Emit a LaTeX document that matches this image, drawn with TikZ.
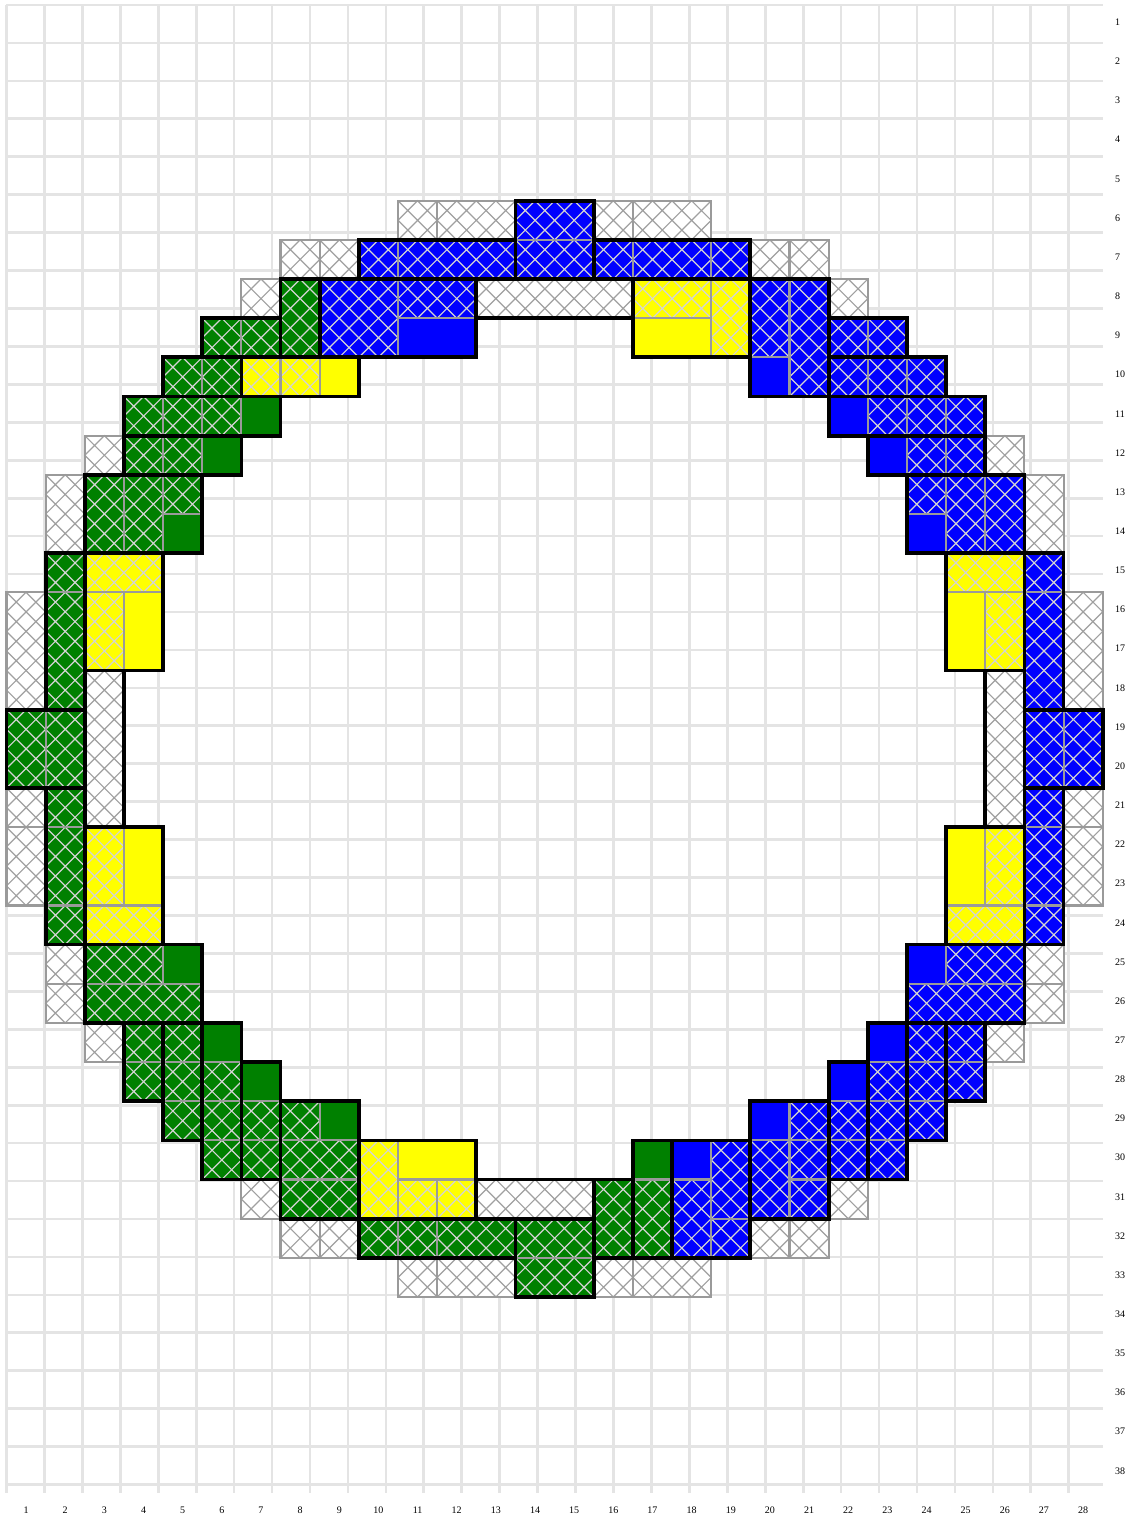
\documentclass[tikz,border=0pt]{standalone}
\usepackage{fontspec}
\setmainfont{Liberation Serif}
\definecolor{G}{HTML}{008000}
\definecolor{B}{HTML}{0000FF}
\definecolor{Y}{HTML}{FFFF00}
\definecolor{gridc}{HTML}{E4E4E4}
\definecolor{subc}{HTML}{9A9A9A}
\definecolor{hatchc}{HTML}{D4D4D4}
\definecolor{hatchw}{HTML}{A0A0A0}
\tikzset{
 gridline/.style={gridc, line width=2pt},
 subline/.style={subc, line width=1.6pt},
 blkline/.style={black, line width=2.8pt, line join=miter},
 hatchline/.style={line width=0.9pt},
 lbl/.style={font=\fontsize{7.5pt}{9pt}\selectfont, inner sep=0pt}
}
\newcommand\hcell[3]{\draw[hatchline,#3] (#1-1,#2-1) -- (#1,#2) (#1-1,#2) -- (#1,#2-1) (#1-0.5,#2-1) -- (#1,#2-0.5) -- (#1-0.5,#2) -- (#1-1,#2-0.5) -- cycle;}
\newcommand\hrect[5]{\foreach \ii in {#1,...,#3}{\foreach \jj in {#2,...,#4}{\hcell{\ii}{\jj}{#5}}}}
\newcommand\hpiece[5]{\fill[#1] (#2-1,#3-1) rectangle (#4,#5); \hrect{#2}{#3}{#4}{#5}{hatchc} \draw[subline] (#2-1,#3-1) rectangle (#4,#5);}
\newcommand\ppiece[5]{\fill[#1] (#2-1,#3-1) rectangle (#4,#5); \draw[subline] (#2-1,#3-1) rectangle (#4,#5);}
\newcommand\wpiece[4]{\fill[white] (#1-1,#2-1) rectangle (#3,#4); \hrect{#1}{#2}{#3}{#4}{hatchw} \draw[subline] (#1-1,#2-1) rectangle (#3,#4);}
\newcommand\blk[4]{\draw[blkline] (#1-1,#2-1) rectangle (#3,#4);}
\begin{document}
\begin{tikzpicture}[x=29.3625pt, y=-29.3625pt]
\fill[white] (-0.166,-0.1277) rectangle (28.595,38.697);
\useasboundingbox (-0.166,-0.1277) rectangle (28.595,38.697);
\draw[gridline] (0,0) grid (28,38);
% labels
\foreach \c in {1,...,28} \node[lbl] (col\c) at (\c-0.5,38.44) {\c};
\foreach \r in {1,...,38} \node[lbl,anchor=west] (row\r) at (28.31,\r-0.56) {\r};
% ---------- outer white hatched pieces
\wpiece{11}{6}{11}{6} \wpiece{12}{6}{13}{6}
\wpiece{16}{6}{16}{6} \wpiece{17}{6}{18}{6}
\wpiece{8}{7}{8}{7} \wpiece{9}{7}{9}{7}
\wpiece{20}{7}{20}{7} \wpiece{21}{7}{21}{7}
\wpiece{7}{8}{7}{8} \wpiece{22}{8}{22}{8}
\wpiece{3}{12}{3}{12} \wpiece{26}{12}{26}{12}
\wpiece{2}{13}{2}{14} \wpiece{27}{13}{27}{14}
\wpiece{1}{16}{1}{18} \wpiece{28}{16}{28}{18}
\wpiece{1}{21}{1}{21} \wpiece{1}{22}{1}{23}
\wpiece{28}{21}{28}{21} \wpiece{28}{22}{28}{23}
\wpiece{2}{25}{2}{25} \wpiece{2}{26}{2}{26}
\wpiece{27}{25}{27}{25} \wpiece{27}{26}{27}{26}
\wpiece{3}{27}{3}{27} \wpiece{26}{27}{26}{27}
\wpiece{7}{31}{7}{31} \wpiece{22}{31}{22}{31}
\wpiece{8}{32}{8}{32} \wpiece{9}{32}{9}{32}
\wpiece{20}{32}{20}{32} \wpiece{21}{32}{21}{32}
\wpiece{11}{33}{11}{33} \wpiece{12}{33}{13}{33}
\wpiece{16}{33}{16}{33} \wpiece{17}{33}{18}{33}
% ---------- inner white hatched blocks
\wpiece{13}{8}{16}{8}
\wpiece{3}{18}{3}{21}
\wpiece{26}{18}{26}{21}
\wpiece{13}{31}{15}{31}
% ---------- top
\hpiece{B}{10}{7}{10}{7} \hpiece{B}{11}{7}{13}{7}
\hpiece{B}{14}{6}{15}{6} \hpiece{B}{14}{7}{15}{7}
\hpiece{B}{16}{7}{16}{7} \hpiece{B}{17}{7}{18}{7} \hpiece{B}{19}{7}{19}{7}
\hpiece{B}{9}{8}{10}{9} \hpiece{B}{11}{8}{12}{8} \ppiece{B}{11}{9}{12}{9}
\hpiece{Y}{17}{8}{18}{8} \ppiece{Y}{17}{9}{18}{9} \hpiece{Y}{19}{8}{19}{9}
\hpiece{B}{20}{8}{20}{9} \ppiece{B}{20}{10}{20}{10} \hpiece{B}{21}{8}{21}{10}
% ---------- top left
\hpiece{G}{8}{8}{8}{9}
\hpiece{G}{6}{9}{6}{9} \hpiece{G}{7}{9}{7}{9}
\hpiece{G}{5}{10}{5}{10} \hpiece{G}{6}{10}{6}{10}
\hpiece{Y}{7}{10}{7}{10} \hpiece{Y}{8}{10}{8}{10} \ppiece{Y}{9}{10}{9}{10}
\hpiece{G}{4}{11}{4}{11} \hpiece{G}{5}{11}{5}{11} \hpiece{G}{6}{11}{6}{11} \ppiece{G}{7}{11}{7}{11}
\hpiece{G}{4}{12}{4}{12} \hpiece{G}{5}{12}{5}{12} \ppiece{G}{6}{12}{6}{12}
\hpiece{G}{3}{13}{3}{14} \hpiece{G}{4}{13}{4}{14} \hpiece{G}{5}{13}{5}{13} \ppiece{G}{5}{14}{5}{14}
% ---------- top right
\hpiece{B}{22}{9}{22}{9} \hpiece{B}{23}{9}{23}{9}
\hpiece{B}{22}{10}{22}{10} \hpiece{B}{23}{10}{23}{10} \hpiece{B}{24}{10}{24}{10}
\ppiece{B}{22}{11}{22}{11} \hpiece{B}{23}{11}{23}{11} \hpiece{B}{24}{11}{24}{11} \hpiece{B}{25}{11}{25}{11}
\ppiece{B}{23}{12}{23}{12} \hpiece{B}{24}{12}{24}{12} \hpiece{B}{25}{12}{25}{12}
\hpiece{B}{24}{13}{24}{13} \ppiece{B}{24}{14}{24}{14} \hpiece{B}{25}{13}{25}{14} \hpiece{B}{26}{13}{26}{14}
% ---------- left
\hpiece{Y}{3}{15}{4}{15} \hpiece{Y}{3}{16}{3}{17} \ppiece{Y}{4}{16}{4}{17}
\hpiece{G}{2}{15}{2}{15} \hpiece{G}{2}{16}{2}{18}
\hpiece{G}{1}{19}{1}{20} \hpiece{G}{2}{19}{2}{20}
\hpiece{G}{2}{21}{2}{21} \hpiece{G}{2}{22}{2}{23} \hpiece{G}{2}{24}{2}{24}
\hpiece{Y}{3}{22}{3}{23} \ppiece{Y}{4}{22}{4}{23} \hpiece{Y}{3}{24}{4}{24}
\hpiece{G}{3}{25}{4}{25} \ppiece{G}{5}{25}{5}{25} \hpiece{G}{3}{26}{5}{26}
% ---------- right
\hpiece{Y}{25}{15}{26}{15} \ppiece{Y}{25}{16}{25}{17} \hpiece{Y}{26}{16}{26}{17}
\hpiece{B}{27}{15}{27}{15} \hpiece{B}{27}{16}{27}{18}
\hpiece{B}{27}{19}{27}{20} \hpiece{B}{28}{19}{28}{20}
\hpiece{B}{27}{21}{27}{21} \hpiece{B}{27}{22}{27}{23} \hpiece{B}{27}{24}{27}{24}
\ppiece{Y}{25}{22}{25}{23} \hpiece{Y}{26}{22}{26}{23} \hpiece{Y}{25}{24}{26}{24}
\ppiece{B}{24}{25}{24}{25} \hpiece{B}{25}{25}{26}{25} \hpiece{B}{24}{26}{26}{26}
% ---------- bottom left
\hpiece{G}{4}{27}{4}{27} \hpiece{G}{4}{28}{4}{28}
\hpiece{G}{5}{27}{5}{27} \hpiece{G}{5}{28}{5}{28} \hpiece{G}{5}{29}{5}{29}
\ppiece{G}{6}{27}{6}{27} \hpiece{G}{6}{28}{6}{28} \hpiece{G}{6}{29}{6}{29} \hpiece{G}{6}{30}{6}{30}
\ppiece{G}{7}{28}{7}{28} \hpiece{G}{7}{29}{7}{29} \hpiece{G}{7}{30}{7}{30}
\hpiece{G}{8}{29}{8}{29} \ppiece{G}{9}{29}{9}{29} \hpiece{G}{8}{30}{9}{30} \hpiece{G}{8}{31}{9}{31}
% ---------- bottom
\hpiece{Y}{10}{30}{10}{31} \ppiece{Y}{11}{30}{12}{30} \hpiece{Y}{11}{31}{11}{31} \hpiece{Y}{12}{31}{12}{31}
\hpiece{G}{10}{32}{10}{32} \hpiece{G}{11}{32}{11}{32} \hpiece{G}{12}{32}{13}{32}
\hpiece{G}{14}{32}{15}{32} \hpiece{G}{14}{33}{15}{33}
\hpiece{G}{16}{31}{16}{32}
\ppiece{G}{17}{30}{17}{30} \hpiece{G}{17}{31}{17}{32}
\ppiece{B}{18}{30}{18}{30} \hpiece{B}{18}{31}{18}{32} \hpiece{B}{19}{30}{19}{31} \hpiece{B}{19}{32}{19}{32}
% ---------- bottom right
\ppiece{B}{20}{29}{20}{29} \hpiece{B}{21}{29}{21}{29} \hpiece{B}{20}{30}{20}{31} \hpiece{B}{21}{30}{21}{30} \hpiece{B}{21}{31}{21}{31}
\ppiece{B}{22}{28}{22}{28} \hpiece{B}{22}{29}{22}{29} \hpiece{B}{22}{30}{22}{30}
\ppiece{B}{23}{27}{23}{27} \hpiece{B}{23}{28}{23}{28} \hpiece{B}{23}{29}{23}{29} \hpiece{B}{23}{30}{23}{30}
\hpiece{B}{24}{27}{24}{27} \hpiece{B}{24}{28}{24}{28} \hpiece{B}{24}{29}{24}{29}
\hpiece{B}{25}{27}{25}{27} \hpiece{B}{25}{28}{25}{28}
% ---------- black block outlines
\blk{10}{7}{13}{7} \blk{14}{6}{15}{7} \blk{16}{7}{19}{7}
\blk{9}{8}{12}{9} \blk{13}{8}{16}{8} \blk{17}{8}{19}{9} \blk{20}{8}{21}{10}
\blk{8}{8}{8}{9} \blk{6}{9}{7}{9} \blk{5}{10}{6}{10} \blk{7}{10}{9}{10}
\blk{4}{11}{7}{11} \blk{4}{12}{6}{12} \blk{3}{13}{5}{14}
\blk{22}{9}{23}{9} \blk{22}{10}{24}{10} \blk{22}{11}{25}{11} \blk{23}{12}{25}{12} \blk{24}{13}{26}{14}
\blk{3}{15}{4}{17} \blk{2}{15}{2}{18} \blk{1}{19}{2}{20} \blk{3}{18}{3}{21}
\blk{2}{21}{2}{24} \blk{3}{22}{4}{24} \blk{3}{25}{5}{26}
\blk{25}{15}{26}{17} \blk{27}{15}{27}{18} \blk{27}{19}{28}{20} \blk{26}{18}{26}{21}
\blk{27}{21}{27}{24} \blk{25}{22}{26}{24} \blk{24}{25}{26}{26}
\blk{4}{27}{4}{28} \blk{5}{27}{5}{29} \blk{6}{27}{6}{30} \blk{7}{28}{7}{30} \blk{8}{29}{9}{31}
\blk{10}{30}{12}{31} \blk{13}{31}{15}{31} \blk{10}{32}{13}{32} \blk{14}{32}{15}{33}
\blk{16}{31}{16}{32} \blk{17}{30}{17}{32} \blk{18}{30}{19}{32}
\blk{20}{29}{21}{31} \blk{22}{28}{22}{30} \blk{23}{27}{23}{30} \blk{24}{27}{24}{29} \blk{25}{27}{25}{28}
\end{tikzpicture}
\end{document}
